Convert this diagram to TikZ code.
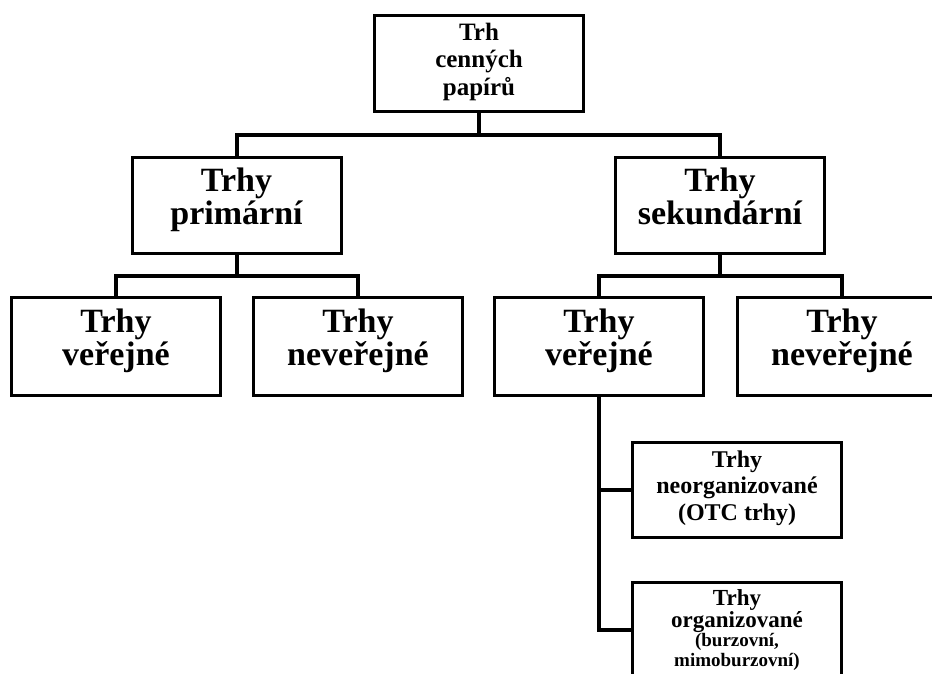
\documentclass[tikz,border=0pt]{standalone}
\usepackage{fontspec}
\setmainfont{Liberation Serif}
\newcommand{\lowend}[1]{\rule[-#1]{0pt}{1pt}}

\begin{document}
\begin{tikzpicture}[x=1pt, y=-1pt,
	box/.style={rectangle, draw=black, line width=3pt, fill=white, align=center, inner sep=0pt, minimum width=209pt, minimum height=96pt},
	big/.style={font=\bfseries\fontsize{34}{33}\selectfont},
	conn/.style={draw=black, line width=4pt}]
			\clip (0,0) rectangle (932,673);
			\node[box, font=\bfseries\fontsize{25}{27.5}\selectfont] (trh) at (479,63){Trh\\cenných\\papírů\strut};
			\node[box, big] (prim) at (236.5,205){Trhy\\primární\lowend{18pt}};
			\node[box, big] (sek) at (720,205){Trhy\\sekundární\lowend{18pt}};
			\node[box, big, minimum height=98pt] (pver) at (116,346){Trhy\\veřejné\lowend{18pt}};
			\node[box, big, minimum height=98pt] (pnever) at (358,346){Trhy\\neveřejné\lowend{18pt}};
			\node[box, big, minimum height=98pt] (sver) at (599,346){Trhy\\veřejné\lowend{18pt}};
			\node[box, big, minimum height=98pt] (snever) at (842,346){Trhy\\neveřejné\lowend{18pt}};
			\node[box, minimum height=95pt, font=\bfseries\fontsize{24}{26.5}\selectfont] (neorg) at (737,489.5){Trhy\\neorganizované\\(OTC trhy)\strut};
			\node[box, minimum height=95pt, font=\bfseries\fontsize{23}{22}\selectfont] (org) at (737,630){Trhy\\organizované\\[-3pt]{\fontsize{19}{22}\selectfont(burzovní,}\\[-2pt]{\fontsize{19}{22}\selectfont mimoburzovní)\lowend{2.6pt}}};
			
			\coordinate (a) at (479,135);
			\coordinate (b) at (236.5,276);
			\coordinate (c) at (720,276);
			
			\path[conn] (trh) -- (a);
			\path[conn] (prim.north) |- (a) -| (sek.north);
			\path[conn] (prim) -- (b);
			\path[conn] (pver.north) |- (b) -| (pnever.north);
			\path[conn] (sek) -- (c);
			\path[conn] (sver.north) |- (c) -| (snever.north);
			\path[conn] (sver.south) |- (neorg.west);
			\path[conn] (sver.south) |- (org.west);
			\end{tikzpicture}
\end{document}
